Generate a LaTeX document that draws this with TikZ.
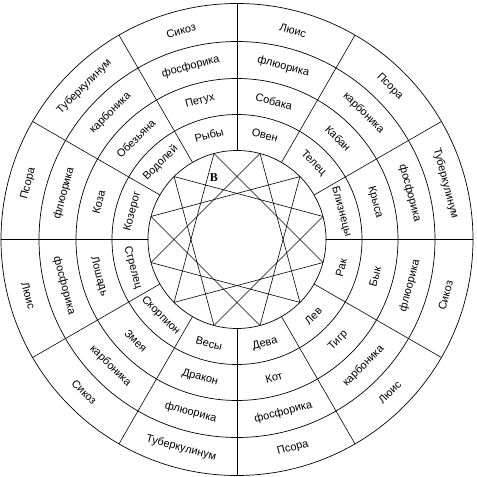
\documentclass[tikz,border=0pt]{standalone}
\usepackage{fontspec}
\setmainfont{Liberation Sans}
\newfontfamily\serifB{Liberation Serif}
\usepackage{tikz}
\tikzset{
  every picture/.style={line join=round, line cap=round},
  ring/.style={line width=0.7pt},
  spoke/.style={line width=0.6pt},
  starline/.style={line width=0.6pt},
  lbl/.style={inner sep=0pt, font=\fontsize{11}{13}\selectfont},
}

\begin{document}
\begin{tikzpicture}[x=1pt,y=1pt]
\useasboundingbox (-237,-237.5) rectangle (240,239.5);
% rings
\foreach \r in {89,125,161,198,236}
  \draw[ring] (0,0) circle[radius=\r];
% spokes
\foreach \a in {0,30,...,330}
  \draw[spoke] (\a:89) -- (\a:236);
% star of four triangles
\foreach \k in {0,...,11}
  \coordinate (v\k) at (15+30*\k:89);
\foreach \k in {0,...,11}{
  \pgfmathtruncatemacro\n{mod(\k+4,12)}
  \draw[starline] (v\k) -- (v\n);
}
\node[font=\serifB\bfseries\fontsize{12}{14}\selectfont] (B) at (-23,61.5) {B};
% labels per sector
\foreach \a/\zod/\cn/\rem/\miasm in {
  15/Близнецы/Крыса/фосфорика/Туберкулинум,
  45/Телец/Кабан/карбоника/Псора,
  75/Овен/Собака/флюорика/Люис,
  105/Рыбы/Петух/фосфорика/Сикоз,
  135/Водолей/Обезьяна/карбоника/Туберкулинум,
  165/Козерог/Коза/флюорика/Псора,
  195/Стрелец/Лошадь/фосфорика/Люис,
  225/Скорпион/Змея/карбоника/Сикоз,
  255/Весы/Дракон/флюорика/Туберкулинум,
  285/Дева/Кот/фосфорика/Псора,
  315/Лев/Тигр/карбоника/Люис,
  345/Рак/Бык/флюорика/Сикоз}{
  \pgfmathsetmacro\rot{\a<180 ? \a-90 : \a+90}
  \node[lbl, rotate=\rot] (z\a) at (\a:108) {\zod};
  \node[lbl, rotate=\rot] (c\a) at (\a:143) {\cn};
  \node[lbl, rotate=\rot] (r\a) at (\a:179) {\rem};
  \node[lbl, rotate=\rot] (m\a) at (\a:216) {\miasm};
}
\end{tikzpicture}
\end{document}
